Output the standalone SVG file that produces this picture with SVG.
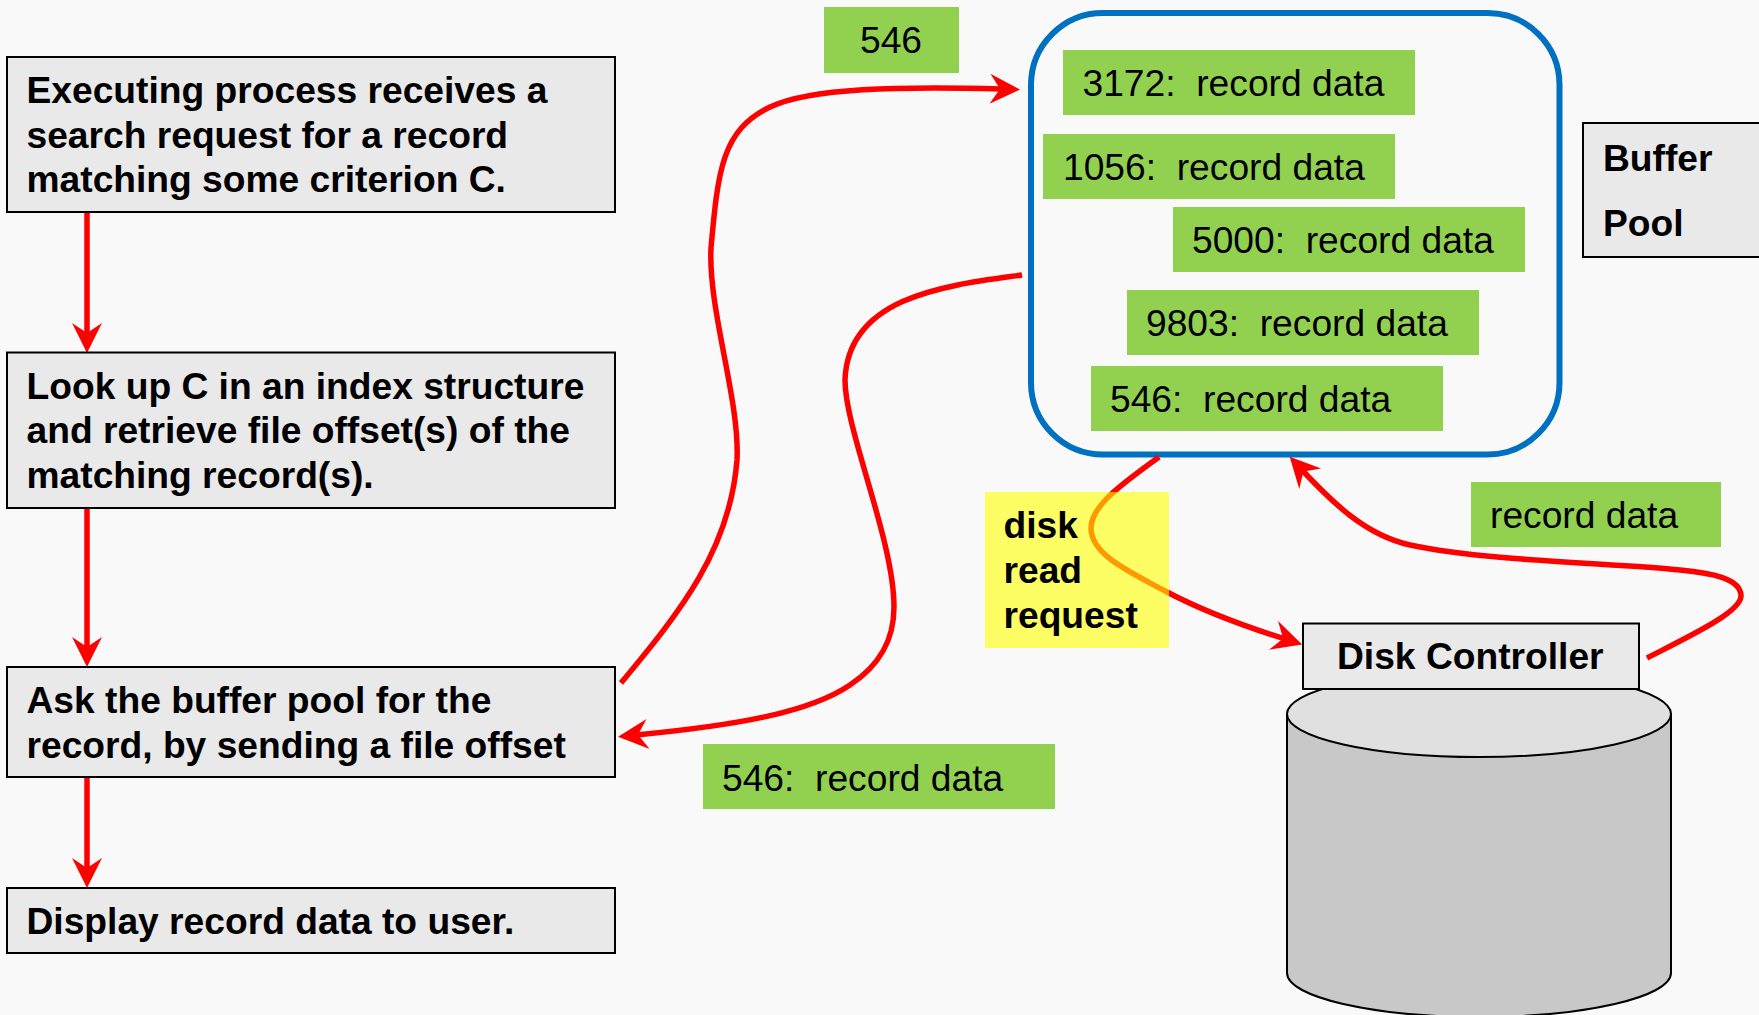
<svg xmlns="http://www.w3.org/2000/svg" width="1759" height="1015" viewBox="0 0 1759 1015">
<style>
.box{fill:#e9e9e9;stroke:#000;stroke-width:2}
.green{fill:#92d050}
.b{font:bold 37.200px "Liberation Sans",Arial,sans-serif;fill:#000}
.r{font:37.200px "Liberation Sans",Arial,sans-serif;fill:#000;white-space:pre}
.c{fill:none;stroke:#f00;stroke-width:5.500}
</style>
<defs>
<marker id="head" markerUnits="userSpaceOnUse" markerWidth="32" markerHeight="32" viewBox="0 0 32 32" refX="12" refY="16" orient="auto">
<path d="M30 16L0 1L10 16L0 31Z" fill="#f00"/>
</marker>
</defs>
<rect width="1759" height="1015" fill="#f9f9f9"/>
<g id="buffer-pool-frame"><rect x="1031" y="13" width="528.500" height="441.500" rx="72" ry="72" fill="none" stroke="#0070c0" stroke-width="6"/></g>
<g id="connectors">
<path class="c" marker-end="url(#head)" d="M87 212V335"/>
<path class="c" marker-end="url(#head)" d="M87 508V649"/>
<path class="c" marker-end="url(#head)" d="M87 777V870"/>
<path class="c" marker-end="url(#head)" d="M621 683C680 612 730 550 737 460C740 400 708 310 711 248C718 170 722 130 770 107C810 88 900 86 1002 89"/>
<path class="c" marker-end="url(#head)" d="M1022 275C950 285 848 295 845 380C845 430 894 540 894 607C894 640 880 665 850 685C810 712 740 725 636 735"/>
<path class="c" marker-end="url(#head)" d="M1159 457C1125 482 1091 505 1091 528C1091 555 1130 572 1167 592C1205 612 1250 628 1285 639"/>
<path class="c" marker-end="url(#head)" d="M1647 658C1690 636 1741 612 1741 596C1741 578 1710 573 1680 570C1620 563 1490 562 1410 545C1365 535 1332 502 1302 470"/>
</g>
<g id="step-1"><rect class="box" x="7" y="57" width="608" height="155"/><text class="b" x="26.500" y="103">Executing process receives a</text><text class="b" x="26.500" y="148">search request for a record</text><text class="b" x="26.500" y="192">matching some criterion C.</text></g>
<g id="step-2"><rect class="box" x="7" y="352.500" width="608" height="155.500"/><text class="b" x="26.500" y="399">Look up C in an index structure</text><text class="b" x="26.500" y="443">and retrieve file offset(s) of the</text><text class="b" x="26.500" y="488">matching record(s).</text></g>
<g id="step-3"><rect class="box" x="7" y="667" width="608" height="110"/><text class="b" x="26.500" y="713">Ask the buffer pool for the</text><text class="b" x="26.500" y="758">record, by sending a file offset</text></g>
<g id="step-4"><rect class="box" x="7" y="888" width="608" height="65"/><text class="b" x="26.500" y="934">Display record data to user.</text></g>
<g id="label-546"><rect class="green" x="824" y="7" width="135" height="66"/><text class="r" x="860" y="53">546</text></g>
<g id="rec-3172"><rect class="green" x="1063" y="50" width="352" height="65"/><text class="r" x="1082.500" y="96">3172:  record data</text></g>
<g id="rec-1056"><rect class="green" x="1043" y="134" width="352" height="65"/><text class="r" x="1063" y="180">1056:  record data</text></g>
<g id="rec-5000"><rect class="green" x="1173" y="207" width="352" height="65"/><text class="r" x="1192" y="253">5000:  record data</text></g>
<g id="rec-9803"><rect class="green" x="1127" y="290" width="352" height="65"/><text class="r" x="1146" y="336">9803:  record data</text></g>
<g id="rec-546"><rect class="green" x="1091" y="366" width="352" height="65"/><text class="r" x="1110" y="412">546:  record data</text></g>
<g id="rec-546-out"><rect class="green" x="703" y="744" width="352" height="65"/><text class="r" x="722" y="791">546:  record data</text></g>
<g id="label-record-data"><rect class="green" x="1471" y="482" width="250" height="65"/><text class="r" x="1490" y="528">record data</text></g>
<g id="buffer-pool-label"><rect class="box" x="1583" y="123" width="180" height="134"/><text class="b" x="1603" y="171">Buffer</text><text class="b" x="1603" y="236">Pool</text></g>
<g id="disk-read-request"><rect x="985" y="492" width="184" height="156" fill="#ffff00" fill-opacity=".6"/><text class="b" x="1003.500" y="538">disk</text><text class="b" x="1003.500" y="583">read</text><text class="b" x="1003.500" y="628">request</text></g>
<g id="disk">
<path d="M1287 714V973C1287 997 1373 1017 1479 1017S1671 997 1671 973V714Z" fill="#c8c8c8" stroke="#000" stroke-width="2"/>
<ellipse cx="1479" cy="714" rx="192" ry="43" fill="#e0e0e0" stroke="#000" stroke-width="2"/>
</g>
<g id="disk-controller"><rect class="box" x="1303" y="623.500" width="336" height="65.500"/><text class="b" x="1337" y="669">Disk Controller</text></g>
</svg>
